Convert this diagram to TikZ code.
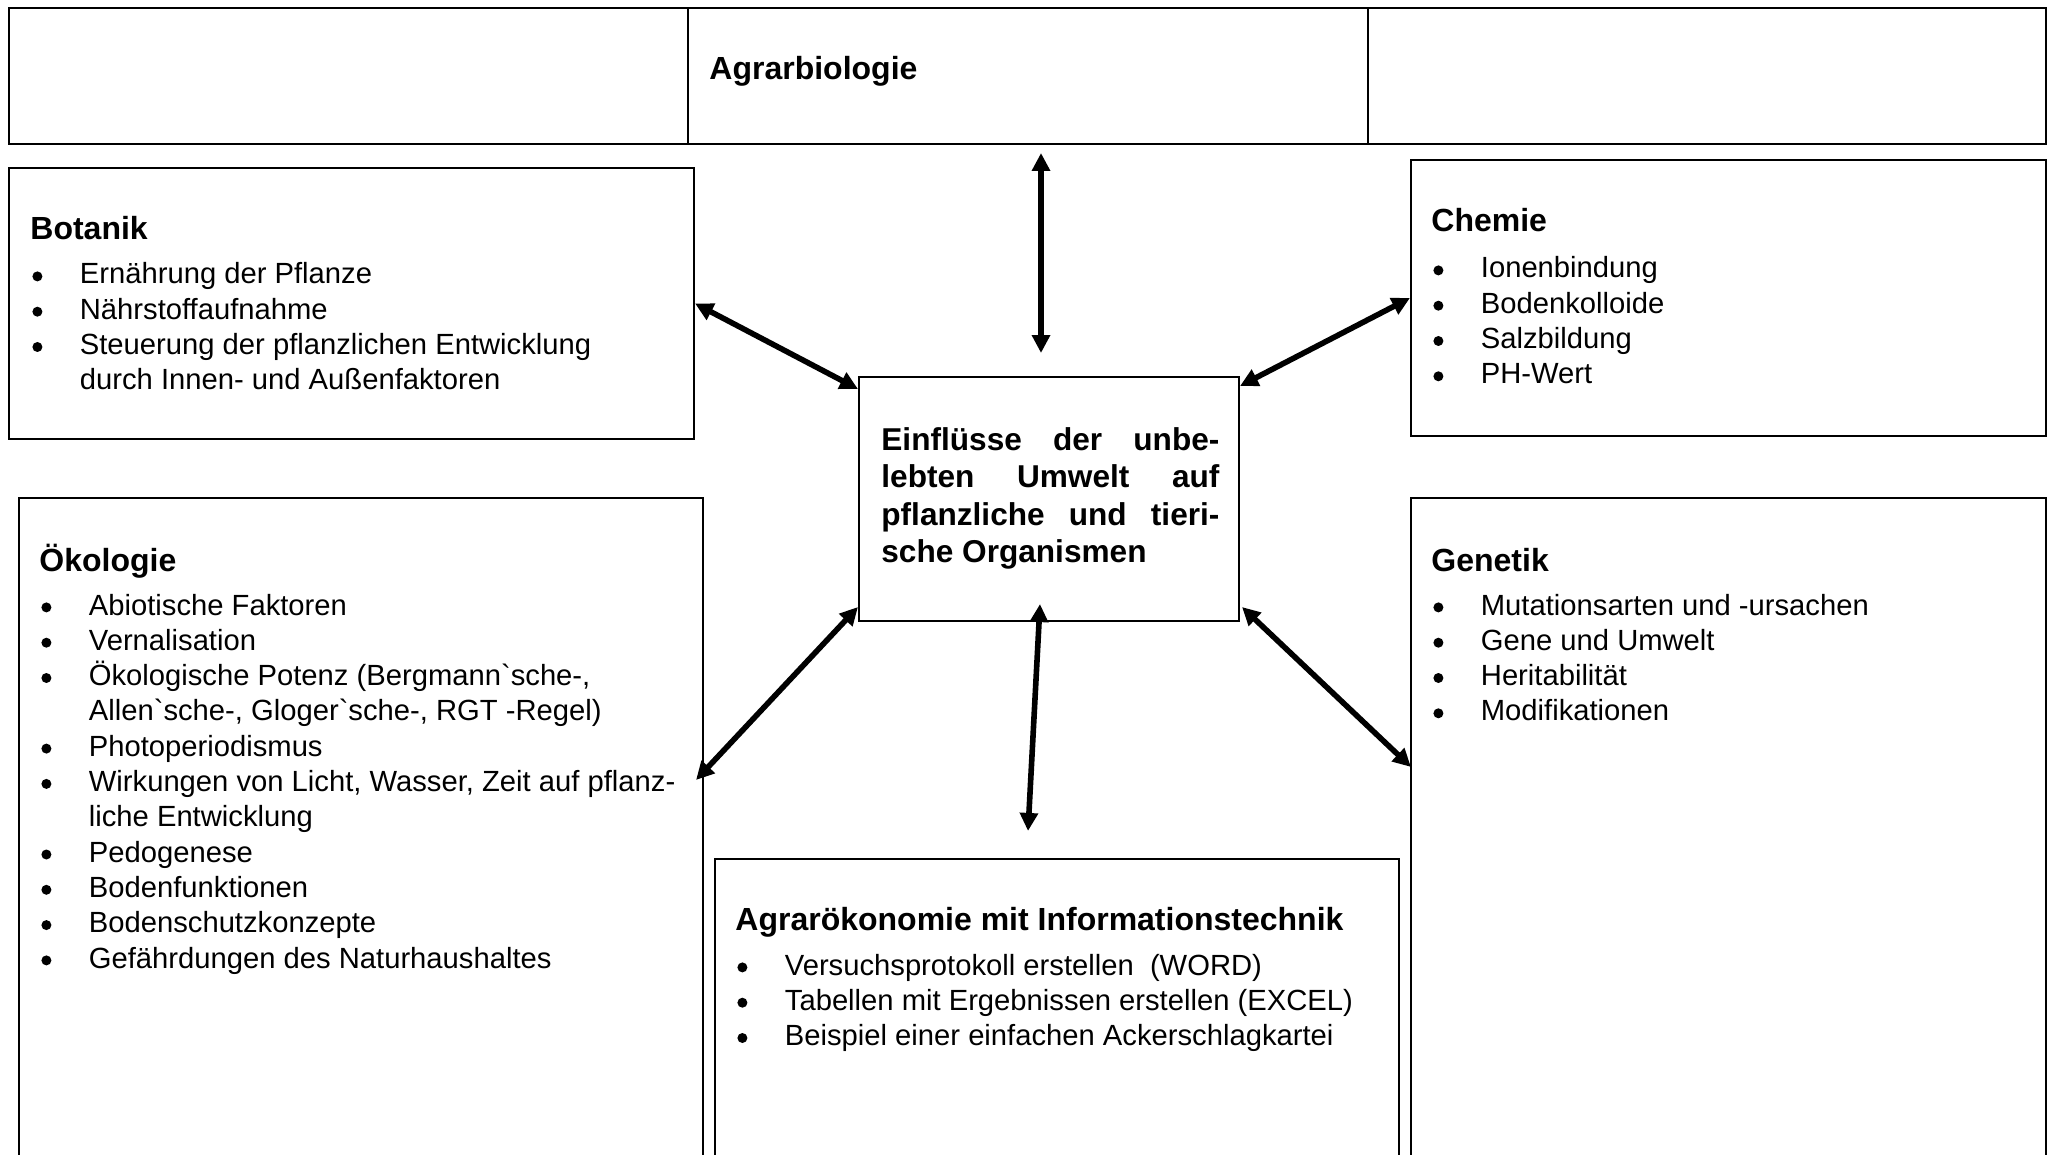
\documentclass[tikz,border=0pt]{standalone}
\usepackage{fontspec}
\setmainfont{Liberation Sans}[Ligatures=TeXOff]
\usetikzlibrary{arrows.meta,calc,fit}

% round bullet with fixed hanging indent
\newcommand\bl{\makebox[23.75pt][l]{\tikz[baseline=0pt]{\fill (2.6pt,3.8pt) circle (2.5pt);}}}
\newcommand\jline[1]{\hbox to 169pt{#1}}

\begin{document}
\begin{tikzpicture}[x=0.5pt,y=-0.5pt,
  box/.style={draw, line width=1.05pt, inner sep=0pt},
  cell/.style={draw, line width=0.95pt, inner sep=0pt},
  title/.style={anchor=base west, inner sep=0pt, font=\bfseries\fontsize{16}{18.6}\selectfont},
  list/.style={anchor=base west, inner sep=0pt, font=\fontsize{14.6}{17.65}\selectfont},
  conn/.style={line width=2.8pt, {Triangle[length=9pt,width=8.8pt]}-{Triangle[length=9pt,width=8.8pt]}}]

\fill[white] (0,0) rectangle (2056,1155);
\useasboundingbox (0,0) rectangle (2056,1155);

% header row
\node[cell, fit={(9,8) (688,144)}] (c1) {};
\node[cell, fit={(688,8) (1368,144)}] (c2) {};
\node[cell, fit={(1368,8) (2046,144)}] (c3) {};
\node[title] (htitle) at (709,80) {Agrarbiologie};

% subject boxes
\node[box, fit={(9,168) (694,439)}] (bot) {};
\node[box, fit={(1411,160) (2046,436)}] (che) {};
\node[box, fit={(859,377) (1239,621)}] (cen) {};
\node[box, fit={(19,498) (703,1170)}] (oko) {};
\node[box, fit={(1411,498) (2046,1170)}] (gen) {};
\node[box, fit={(715,859) (1399,1170)}] (agr) {};

% Botanik
\node[title] (bott) at (30,240) {Botanik};
\node[list] (botl) at (32,284) {\begin{tabular}[t]{@{}l@{}l@{}}
\bl & Ernährung der Pflanze\\
\bl & Nährstoffaufnahme\\
\bl & Steuerung der pflanzlichen Entwicklung\\
    & durch Innen- und Außenfaktoren
\end{tabular}};

% Chemie
\node[title] (chet) at (1431,232) {Chemie};
\node[list] (chel) at (1433,278) {\begin{tabular}[t]{@{}l@{}l@{}}
\bl & Ionenbindung\\
\bl & Bodenkolloide\\
\bl & Salzbildung\\
\bl & PH-Wert
\end{tabular}};

% central topic
\node[anchor=base west, inner sep=0pt, font=\bfseries\fontsize{15.8}{18.75}\selectfont] (cent) at (881,450) {\begin{tabular}[t]{@{}l@{}}
\jline{Einflüsse\hfill der\hfill unbe-}\\
\jline{lebten\hfill Umwelt\hfill auf}\\
\jline{pflanzliche\hfill und\hfill tieri-}\\
sche Organismen
\end{tabular}};

% Oekologie
\node[title] (okot) at (39,571) {Ökologie};
\node[list] (okol) at (41,615) {\begin{tabular}[t]{@{}l@{}l@{}}
\bl & Abiotische Faktoren\\
\bl & Vernalisation\\
\bl & Ökologische Potenz (Bergmann`sche-,\\
    & Allen`sche-, Gloger`sche-, RGT -Regel)\\
\bl & Photoperiodismus\\
\bl & Wirkungen von Licht, Wasser, Zeit auf pflanz-\\
    & liche Entwicklung\\
\bl & Pedogenese\\
\bl & Bodenfunktionen\\
\bl & Bodenschutzkonzepte\\
\bl & Gefährdungen des Naturhaushaltes
\end{tabular}};

% Genetik
\node[title] (gent) at (1431,571) {Genetik};
\node[list] (genl) at (1433,615) {\begin{tabular}[t]{@{}l@{}l@{}}
\bl & Mutationsarten und -ursachen\\
\bl & Gene und Umwelt\\
\bl & Heritabilität\\
\bl & Modifikationen
\end{tabular}};

% Agraroekonomie
\node[title] (agrt) at (735,930) {Agrarökonomie mit Informationstechnik};
\node[list] (agrl) at (737,975) {\begin{tabular}[t]{@{}l@{}l@{}}
\bl & Versuchsprotokoll erstellen~ (WORD)\\
\bl & Tabellen mit Ergebnissen erstellen (EXCEL)\\
\bl & Beispiel einer einfachen Ackerschlagkartei
\end{tabular}};

% connectors
\coordinate (upa) at (1041,153);
\coordinate (upb) at (1041,353);
\draw[conn] (upa) -- (upb);
\draw[conn] (bot.east) -- ($(cen.north west)+(0,13)$);
\draw[conn] ($(cen.north east)+(0,10)$) -- (che.west);
\draw[conn] ($(cen.south west)+(0,-15)$) -- ($(oko.north east)+(-8,283)$);
\draw[conn] ($(cen.south east)+(2,-15)$) -- ($(gen.north west)+(1,270)$);
\draw[conn] ($(cen.south)+(-9,-18)$) -- ($(agr.north)+(-29,-27)$);
\end{tikzpicture}
\end{document}
